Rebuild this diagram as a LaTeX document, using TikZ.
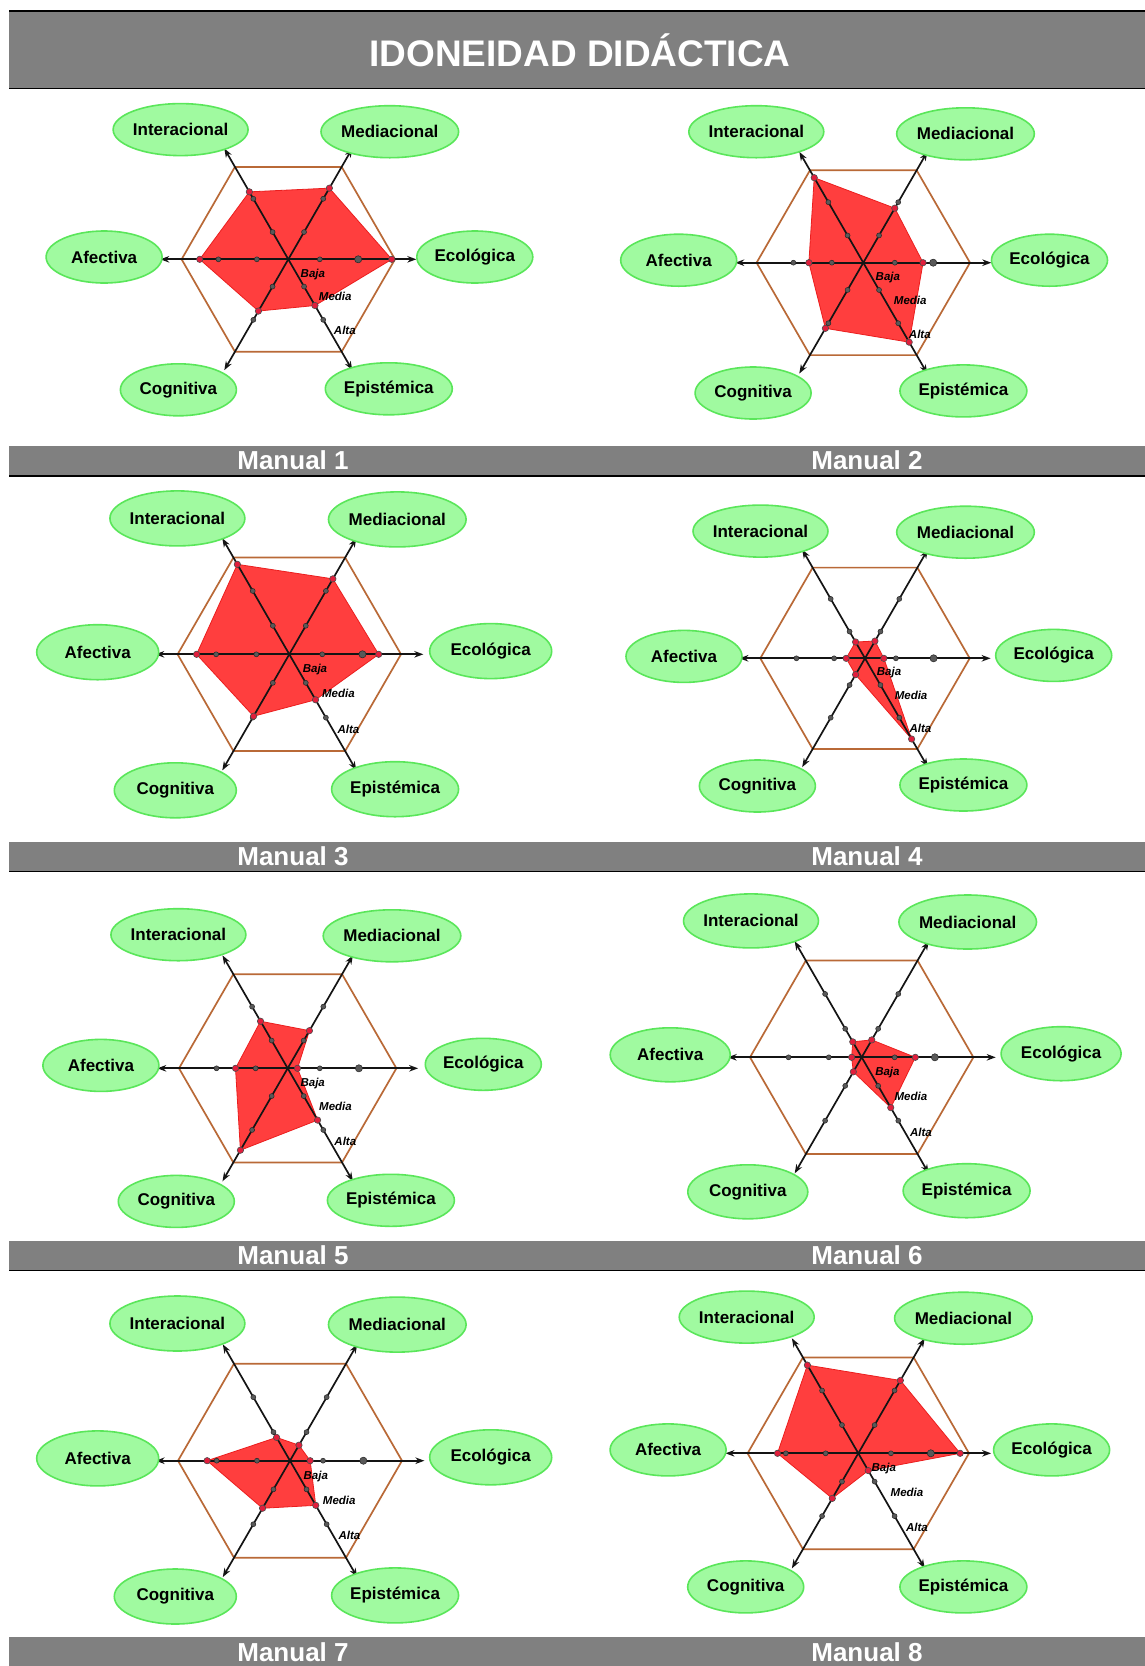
\documentclass[tikz,border=0pt]{standalone}
\usepackage{fontspec}
\setmainfont{Liberation Sans}
\usetikzlibrary{arrows.meta,shapes.geometric}
\definecolor{barg}{RGB}{128,128,128}
\definecolor{hexc}{RGB}{185,105,55}
\definecolor{polyf}{RGB}{255,62,62}
\definecolor{polyd}{RGB}{235,30,30}
\definecolor{rdotc}{RGB}{225,30,60}
\definecolor{ellf}{RGB}{160,250,160}
\definecolor{elld}{RGB}{90,230,90}
\tikzset{
  hexline/.style={draw=hexc, line width=1.7},
  poly/.style={fill=polyf, draw=polyd, line width=0.8, line join=round},
  axisline/.style={draw=black!92, line width=1.7, {Stealth[length=9pt,width=6.5pt]}-{Stealth[length=9pt,width=6.5pt]}},
  tickdot/.style={fill=black!65, draw=black!85, line width=0.5},
  rdot/.style={fill=rdotc, draw=black!70, line width=0.6},
  lvl/.style={font=\bfseries\itshape\fontsize{11.5}{12}\selectfont, inner sep=0},
  elab/.style={ellipse, draw=elld, line width=1.6, fill=ellf, minimum width=116, minimum height=52, inner sep=0, font=\bfseries\fontsize{17}{20}\selectfont},
  capt/.style={text=white, font=\bfseries\fontsize{26}{28}\selectfont},
}
% #1 cx, #2 cy, #3 R, #4..#9 values: Ecologica, Mediacional, Interacional, Afectiva, Cognitiva, Epistemica
\newcommand{\radarchart}[9]{%
\begin{scope}[shift={(#1,#2)},y=1pt]
\coordinate (ctr) at (0,0);
\draw[hexline] (0:#3) -- (60:#3) -- (120:#3) -- (180:#3) -- (240:#3) -- (300:#3) -- cycle;
\filldraw[poly] (0:{#4*#3}) -- (60:{#5*#3}) -- (120:{#6*#3}) -- (180:{#7*#3}) -- (240:{#8*#3}) -- (300:{#9*#3}) -- cycle;
\foreach \a/\b in {0/180,60/240,120/300} {
  \coordinate (ta) at (\a:{1.2*#3});
  \coordinate (tb) at (\b:{1.2*#3});
  \draw[axisline] (ta) -- (tb);
}
\foreach \a in {0,60,120,180,240,300} {
  \filldraw[tickdot] (\a:{0.295*#3}) circle (2.5);
  \filldraw[tickdot] (\a:{0.655*#3}) circle (2.5);
}
\filldraw[tickdot] (0:{0.655*#3}) circle (3.6);
\foreach \a/\v in {0/#4,60/#5,120/#6,180/#7,240/#8,300/#9} {
  \filldraw[rdot] (\a:{\v*#3}) circle (3.2);
}
\node[lvl] (baja) at ({0.23*#3},{-0.14*#3}) {Baja};
\node[lvl] (media) at ({0.44*#3},{-0.35*#3}) {Media};
\node[lvl] (alta) at ({0.53*#3},{-0.67*#3}) {Alta};
\end{scope}}
% #1 suffix, #2..#7 positions I, M, E, A, C, Ep
\newcommand{\elabels}[7]{%
\node[elab] (I#1) at #2 {Interacional};
\node[elab] (M#1) at #3 {Mediacional};
\node[elab] (E#1) at #4 {Ecológica};
\node[elab] (A#1) at #5 {Afectiva};
\node[elab] (C#1) at #6 {Cognitiva};
\node[elab] (P#1) at #7 {Epistémica};}
\begin{document}
\begin{tikzpicture}[x=1pt,y=-1pt]
\useasboundingbox (0,0) rectangle (1145,1666);
\fill[white] (0,0) rectangle (1145,1666);
% title bar
\fill[barg] (9,12) rectangle (1145,88);
\draw[black, line width=2] (9,11) -- (1145,11);
\draw[black, line width=1.5] (9,88.5) -- (1145,88.5);
\node[text=white, font=\bfseries\fontsize{37}{40}\selectfont] (title) at (580,50) {IDONEIDAD DIDÁCTICA};
% caption bars
\fill[barg] (9,446) rectangle (1145,475.5);
\draw[black, line width=1.5] (9,476) -- (1145,476);
\fill[barg] (9,842) rectangle (1145,871);
\draw[black, line width=1.5] (9,871.5) -- (1145,871.5);
\fill[barg] (9,1241) rectangle (1145,1270);
\draw[black, line width=1.5] (9,1270.5) -- (1145,1270.5);
\fill[barg] (9,1637) rectangle (1145,1666);
\node[capt] (cap1) at (293,460) {Manual 1};
\node[capt] (cap2) at (867,460) {Manual 2};
\node[capt] (cap3) at (293,856) {Manual 3};
\node[capt] (cap4) at (867,856) {Manual 4};
\node[capt] (cap5) at (293,1255.5) {Manual 5};
\node[capt] (cap6) at (867,1255.5) {Manual 6};
\node[capt] (cap7) at (293,1652) {Manual 7};
\node[capt] (cap8) at (867,1652) {Manual 8};
% charts
\radarchart{288.3}{259.3}{106.7}{.97}{.77}{.73}{.83}{.56}{.50}
\elabels{1}{(180.6,129.6)}{(389.8,131.7)}{(474.8,257)}{(104.1,257)}{(178.4,389.8)}{(388.8,388.8)}
\radarchart{863.3}{262.7}{106.7}{.56}{.59}{.92}{.51}{.71}{.86}
\elabels{2}{(756.3,131.7)}{(965.5,133.8)}{(1049.5,260.2)}{(678.7,260.2)}{(753.1,393)}{(963.4,390.9)}
\radarchart{289.3}{654.3}{111.7}{.80}{.78}{.93}{.83}{.64}{.47}
\begin{scope}[elab/.append style={minimum width=122, minimum height=55}]
\elabels{3}{(177.4,518.4)}{(397.3,519.4)}{(490.7,651.1)}{(97.7,652.2)}{(175.3,790.3)}{(395.1,789.2)}
\end{scope}
\radarchart{865}{658.3}{104.7}{.18}{.19}{.18}{.18}{.18}{.89}
\elabels{4}{(760.5,531.1)}{(965.5,532.2)}{(1053.7,655.4)}{(684,656.4)}{(757.4,786)}{(963.4,785)}
\radarchart{287.7}{1068.3}{108.7}{.09}{.40}{.50}{.48}{.87}{.55}
\elabels{5}{(178.4,934.7)}{(392,935.8)}{(483.3,1064.3)}{(100.9,1065.4)}{(176.3,1201.4)}{(390.9,1200.3)}
\radarchart{861.7}{1057.3}{111.7}{.48}{.18}{.16}{.09}{.15}{.52}
\begin{scope}[elab/.append style={minimum width=120, minimum height=54}]
\elabels{6}{(751,920.9)}{(967.7,922)}{(1061.1,1053.7)}{(670.2,1054.8)}{(747.8,1191.8)}{(966.6,1190.7)}
\end{scope}
\radarchart{290}{1460.7}{112}{.18}{.16}{.24}{.74}{.49}{.46}
\begin{scope}[elab/.append style={minimum width=122, minimum height=55}]
\elabels{7}{(177.4,1323.5)}{(397.3,1324.6)}{(490.7,1457.3)}{(97.7,1458.4)}{(175.3,1596.5)}{(395.1,1595.4)}
\end{scope}
\radarchart{858.3}{1453.3}{110.7}{.92}{.76}{.92}{.73}{.47}{.18}
\elabels{8}{(746.7,1317.1)}{(963.4,1318.2)}{(1051.6,1449.9)}{(668.1,1449.9)}{(745.7,1586.9)}{(963.4,1586.9)}
\end{tikzpicture}
\end{document}
